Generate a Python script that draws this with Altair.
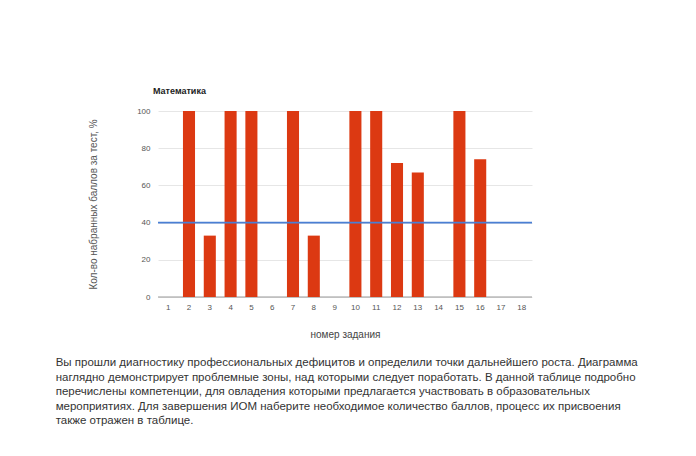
import altair as alt
import pandas as pd

tasks = [str(i) for i in range(1, 19)]
scores = [0, 100, 33, 100, 100, 0, 100, 33, 0, 100, 100, 72, 67, 0, 100, 74, 0, 0]
threshold = [40]
y_ticks = [0, 20, 40, 60, 80, 100]

chart_title = "Математика"
y_title = "Кол-во набранных баллов за тест, %"
x_title = "номер задания"
paragraph = [
    "Вы прошли диагностику профессиональных дефицитов и определили точки дальнейшего роста. Диаграмма",
    "наглядно демонстрирует проблемные зоны, над которыми следует поработать. В данной таблице подробно",
    "перечислены компетенции, для овладения которыми предлагается участвовать в образовательных",
    "мероприятиях. Для завершения ИОМ наберите необходимое количество баллов, процесс их присвоения",
    "также отражен в таблице.",
]

df = pd.DataFrame({"task": tasks, "score": scores})
df_line = pd.DataFrame({"t": threshold})
df_base = pd.DataFrame({"z": [0]})

FONT = "Liberation Sans"

y_axis = alt.Axis(title=y_title, values=y_ticks, labelFontSize=8, labelColor="#555",
                  titleFontSize=10, titleFontWeight="normal", titleColor="#555",
                  titlePadding=38, ticks=False, domain=False, labelPadding=8,
                  gridColor="#e6e6e6", labelOverlap=False)
y_scale = alt.Scale(domain=[0, 100])

baseline = alt.Chart(df_base).mark_rule(color="#999", strokeWidth=1).encode(
    y=alt.Y("z:Q", scale=y_scale, axis=y_axis)
)

bars = alt.Chart(df).mark_bar(color="#dc3912").encode(
    x=alt.X("task:O", sort=tasks,
            scale=alt.Scale(paddingInner=0.42, paddingOuter=0.2),
            axis=alt.Axis(title=x_title, labelAngle=0, labelFontSize=8, labelColor="#555",
                          titleFontSize=10, titleFontWeight="normal", titleColor="#444",
                          titlePadding=18, ticks=False, domain=False, labelPadding=6)),
    y=alt.Y("score:Q", scale=y_scale, axis=y_axis),
)

line = alt.Chart(df_line).mark_rule(color="#4a7fd4", strokeWidth=1.6).encode(
    y=alt.Y("t:Q", scale=y_scale, axis=y_axis)
)

inner = alt.layer(baseline, bars, line).properties(
    width=374, height=186,
    title=alt.TitleParams(chart_title, anchor="start", frame="group", fontSize=9,
                          fontWeight="bold", color="#222", offset=11, dx=-5),
)

chart = alt.vconcat(inner).properties(
    title=alt.TitleParams(paragraph, orient="bottom", anchor="start", fontSize=11.5,
                          fontWeight="normal", color="#333", lineHeight=14.6, offset=18,
                          dx=-33),
    padding={"left": 47, "top": 79, "right": 20, "bottom": 10},
).configure(font=FONT).configure_view(stroke=None).configure_axis(
    labelFont=FONT, titleFont=FONT
).configure_title(font=FONT)

chart.save("out.html", embed_options={"renderer": "svg", "actions": False})
